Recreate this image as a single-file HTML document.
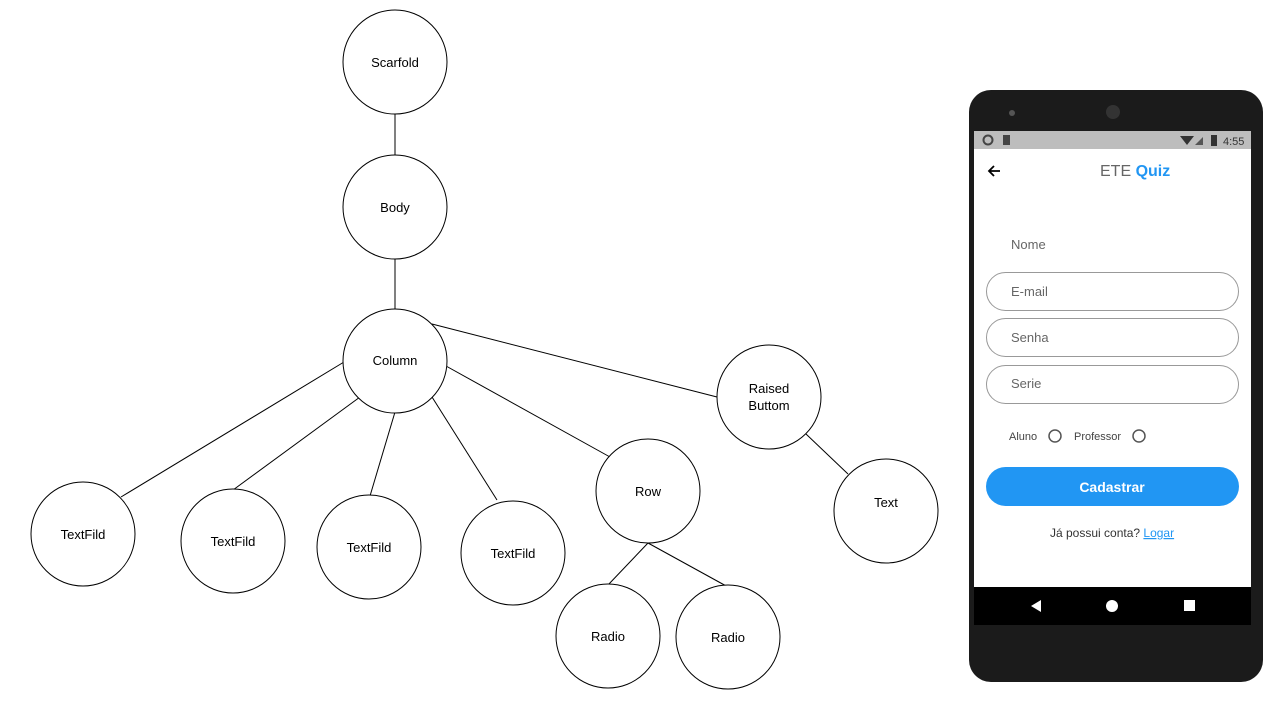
<!DOCTYPE html>
<html><head><style>
body{margin:0;width:1280px;height:720px;background:#fff;overflow:hidden;font-family:"Liberation Sans",sans-serif}
</style></head><body>
<svg width="1280" height="720" style="position:absolute;left:0;top:0">
<g stroke="#000" stroke-width="1" fill="none">
<line x1="395" y1="114" x2="395" y2="155"/>
<line x1="395" y1="259" x2="395" y2="309"/>
<line x1="344" y1="362" x2="121" y2="497"/>
<line x1="360" y1="397" x2="233" y2="490"/>
<line x1="395" y1="412" x2="370" y2="496"/>
<line x1="432" y1="397" x2="497" y2="500"/>
<line x1="446" y1="366" x2="610" y2="457"/>
<line x1="432" y1="324" x2="717" y2="397"/>
<line x1="806" y1="434" x2="848" y2="474"/>
<line x1="648" y1="543" x2="608" y2="585"/>
<line x1="648" y1="543" x2="728" y2="587"/>
</g>
<g stroke="#000" stroke-width="1" fill="#fff">
<circle cx="395" cy="62" r="52"/><circle cx="395" cy="207" r="52"/><circle cx="395" cy="361" r="52"/>
<circle cx="769" cy="397" r="52"/><circle cx="648" cy="491" r="52"/><circle cx="886" cy="511" r="52"/>
<circle cx="83" cy="534" r="52"/><circle cx="233" cy="541" r="52"/><circle cx="369" cy="547" r="52"/>
<circle cx="513" cy="553" r="52"/><circle cx="608" cy="636" r="52"/><circle cx="728" cy="637" r="52"/>
</g>
<g font-family="Liberation Sans, sans-serif" font-size="13" text-anchor="middle" fill="#000">
<text x="395" y="67">Scarfold</text><text x="395" y="212">Body</text><text x="395" y="365">Column</text>
<text x="769" y="393">Raised</text><text x="769" y="410">Buttom</text>
<text x="648" y="496">Row</text><text x="886" y="507">Text</text>
<text x="83" y="539">TextFild</text><text x="233" y="546">TextFild</text><text x="369" y="552">TextFild</text>
<text x="513" y="558">TextFild</text><text x="608" y="641">Radio</text><text x="728" y="642">Radio</text>
</g>
<!-- phone -->
<rect x="969" y="90" width="294" height="592" rx="22" fill="#1b1b1b"/>
<circle cx="1012" cy="113" r="3" fill="#555"/>
<circle cx="1113" cy="112" r="7" fill="#333"/>
<rect x="974" y="131" width="277" height="18" fill="#bdbdbd"/>
<circle cx="988" cy="140" r="4.5" fill="none" stroke="#444" stroke-width="2"/>
<rect x="1003" y="135" width="7" height="10" fill="#444"/>
<path d="M1180 136 L1194 136 L1187 145Z" fill="#333"/><path d="M1195 145 L1203 145 L1203 137Z" fill="#555"/>
<rect x="1211" y="135" width="6" height="11" fill="#333"/>
<text x="1223" y="145" font-size="11" fill="#333">4:55</text>
<rect x="974" y="149" width="277" height="438" fill="#fff"/>
<path d="M1000 171 H989 M994 166 L989 171 L994 176" stroke="#000" stroke-width="1.8" fill="none"/>
<text x="1100" y="176" font-size="16" fill="#666">ETE <tspan fill="#2196f3" font-weight="bold">Quiz</tspan></text>
<text x="1011" y="249" font-size="13" fill="#666">Nome</text>
<g fill="none" stroke="#999" stroke-width="1">
<rect x="986.5" y="272.5" width="252" height="38" rx="19"/>
<rect x="986.5" y="318.5" width="252" height="38" rx="19"/>
<rect x="986.5" y="365.5" width="252" height="38" rx="19"/>
</g>
<g font-size="13" fill="#666">
<text x="1011" y="296">E-mail</text><text x="1011" y="342">Senha</text><text x="1011" y="388">Serie</text>
</g>
<text x="1009" y="440" font-size="11" fill="#444">Aluno</text>
<circle cx="1055" cy="436" r="6" fill="none" stroke="#555" stroke-width="1.5"/>
<text x="1074" y="440" font-size="11" fill="#444">Professor</text>
<circle cx="1139" cy="436" r="6" fill="none" stroke="#555" stroke-width="1.5"/>
<rect x="986" y="467" width="253" height="39" rx="19.5" fill="#2196f3"/>
<text x="1112" y="492" font-size="14" font-weight="bold" fill="#fff" text-anchor="middle">Cadastrar</text>
<text x="1050" y="537" font-size="12" fill="#333">Já possui conta? <tspan fill="#2196f3" text-decoration="underline">Logar</tspan></text>
<rect x="974" y="587" width="277" height="38" fill="#000"/>
<path d="M1041 600 L1041 612 L1031 606Z" fill="#fff"/>
<circle cx="1112" cy="606" r="6" fill="#fff"/>
<rect x="1184" y="600" width="11" height="11" fill="#fff"/>
</svg>
</body></html>
